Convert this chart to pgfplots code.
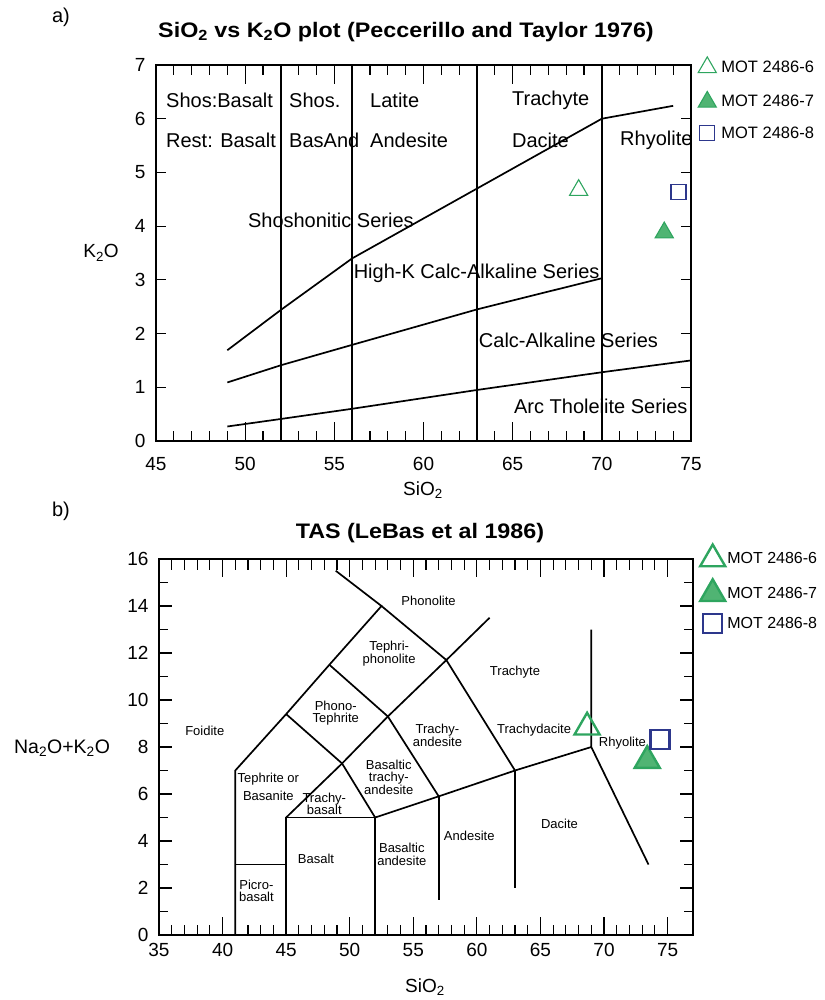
\documentclass[border=0pt]{standalone}
\usepackage{pgfplots}
\pgfplotsset{compat=1.18}
\usepackage{fontspec}
\setmainfont{Liberation Sans}
\definecolor{mgreen}{RGB}{46,165,95}
\definecolor{mfill}{RGB}{80,180,115}
\definecolor{mblue}{RGB}{45,55,140}
\pgfplotsset{
  bnd/.style={forget plot, black, line width=1.7pt},
  oneimg/.style={legend image code/.code={\draw[##1] plot coordinates {(0pt,0pt)};}},
  tk/.style={ticklabel style={font=\fontsize{19}{22}\selectfont},
    /pgf/number format/assume math mode=true, tick align=inside,
    axis line style={line width=1.5pt}, clip=false, scale only axis},
}
\begin{document}
\begin{tikzpicture}
\useasboundingbox (0,0) rectangle (824pt,-1000pt);
% ---------------- a) ----------------
\begin{axis}[tk,
  at={(156pt,-441pt)}, anchor=south west,
  width=535pt, height=376pt,
  xmin=45, xmax=75, ymin=0, ymax=7,
  xtick={45,50,...,75}, ytick=\empty,
  minor x tick num=4,
  major tick length=19pt, minor tick length=10pt,
  every tick/.style={line width=1.1pt, black},
  xticklabel style={yshift=-13pt},
  legend style={at={(1.013,1.022)}, anchor=north west, draw=none, fill=none,
    font=\fontsize{16.5}{18}\selectfont, row sep=17.5pt, inner sep=0pt,
    nodes={inner sep=0pt}, column sep=5pt,
    legend cell align=left},
]
\addplot[only marks, mark=triangle, mark size=10.5pt, mgreen, line width=1.1pt, mark options={fill=white}, oneimg] coordinates {(68.7,4.67)};
\addlegendentry{MOT 2486-6}
\addplot[only marks, mark=triangle*, mark size=10.5pt, mgreen, line width=1.1pt, mark options={fill=mfill}, oneimg] coordinates {(73.5,3.88)};
\addlegendentry{MOT 2486-7}
\addplot[only marks, mark=square, mark size=7.5pt, mblue, line width=1.1pt, oneimg] coordinates {(74.3,4.64)};
\addlegendentry{MOT 2486-8}
% series boundaries
\addplot[bnd] coordinates {(49,1.69) (52,2.44) (56,3.40) (63,4.70) (70,6.00) (74,6.24)};
\addplot[bnd] coordinates {(49,1.09) (52,1.41) (56,1.79) (63,2.45) (70,3.03)};
\addplot[bnd] coordinates {(49,0.27) (52,0.41) (56,0.60) (63,0.95) (70,1.28) (75,1.50)};
\addplot[bnd] coordinates {(52,0) (52,7)};
\addplot[bnd] coordinates {(56,0) (56,7)};
\addplot[bnd] coordinates {(63,0) (63,7)};
\addplot[bnd] coordinates {(70,0) (70,7)};
\begin{scope}[every node/.style={font=\fontsize{20}{22}\selectfont, anchor=west, inner sep=0pt}]
\node at (axis cs:45.56,6.35) {Shos:Basalt};
\node at (axis cs:45.56,5.60) {Rest: Basalt};
\node at (axis cs:52.46,6.35) {Shos.};
\node at (axis cs:52.46,5.60) {BasAnd};
\node at (axis cs:57.0,6.35) {Latite};
\node at (axis cs:57.0,5.60) {Andesite};
\node at (axis cs:64.96,6.35) {Trachyte};
\node at (axis cs:64.96,5.60) {Dacite};
\node at (axis cs:71.02,5.60) {Rhyolite};
\node at (axis cs:50.15,4.11) {Shoshonitic Series};
\node at (axis cs:56.08,3.12) {High-K Calc-Alkaline Series};
\node at (axis cs:63.1,1.88) {Calc-Alkaline Series};
\node at (axis cs:65.07,0.64) {Arc Tholeiite Series};
\end{scope}
\end{axis}
% y ticks of a)
\begin{axis}[tk,
  at={(156pt,-441pt)}, anchor=south west,
  width=535pt, height=376pt,
  xmin=45, xmax=75, ymin=0, ymax=7,
  xtick=\empty, ytick={0,1,...,7},
  major tick length=10pt,
  every tick/.style={line width=1.1pt, black},
  axis line style={draw=none},
  yticklabel style={xshift=-7pt},
]
\end{axis}
% ---------------- b) ----------------
\begin{axis}[tk,
  at={(159pt,-935pt)}, anchor=south west,
  width=534pt, height=376pt,
  xmin=35, xmax=77, ymin=0, ymax=16,
  xtick={35,40,...,75}, ytick=\empty,
  minor x tick num=4,
  major tick length=18pt, minor tick length=10.5pt,
  every tick/.style={line width=1.1pt, black},
  xticklabel style={yshift=-5pt},
  legend style={at={(1.013,1.039)}, anchor=north west, draw=none, fill=none,
    font=\fontsize{16}{18}\selectfont, row sep=13pt, inner sep=0pt,
    nodes={inner sep=0pt}, column sep=2pt,
    legend cell align=left},
]
\addplot[only marks, mark=triangle, mark size=14.5pt, mgreen, line width=2.4pt, mark options={fill=white}, oneimg] coordinates {(68.67,8.84)};
\addlegendentry{MOT 2486-6}
\addplot[only marks, mark=triangle*, mark size=14.5pt, mgreen, line width=2.4pt, mark options={fill=mfill}, oneimg] coordinates {(73.4,7.42)};
\addlegendentry{MOT 2486-7}
\addplot[only marks, mark=square, mark size=9.5pt, mblue, line width=2.4pt, oneimg] coordinates {(74.4,8.31)};
\addlegendentry{MOT 2486-8}
% TAS fields
\addplot[bnd] coordinates {(41,0) (41,7) (45,9.4) (48.4,11.5) (52.5,14) (48.9,15.5)};
\addplot[bnd] coordinates {(41,3) (45,3)};
\addplot[bnd] coordinates {(45,0) (45,5) (52,5) (52,0)};
\addplot[bnd] coordinates {(45,5) (49.4,7.3) (53,9.3) (57.6,11.7) (61,13.5)};
\addplot[bnd] coordinates {(45,9.4) (49.4,7.3) (52,5)};
\addplot[bnd] coordinates {(48.4,11.5) (53,9.3) (57,5.9)};
\addplot[bnd] coordinates {(52.5,14) (57.6,11.7) (63,7)};
\addplot[bnd] coordinates {(52,5) (57,5.9) (63,7) (69,8)};
\addplot[bnd] coordinates {(57,5.9) (57,1.5)};
\addplot[bnd] coordinates {(63,7) (63,2)};
\addplot[bnd] coordinates {(69,13) (69,8) (73.5,3)};
\begin{scope}[every node/.style={font=\fontsize{13}{12.5}\selectfont, align=center, inner sep=0pt}]
\node at (axis cs:38.6,8.7) {Foidite};
\node at (axis cs:56.2,14.2) {Phonolite};
\node at (axis cs:53.1,11.97) {Tephri-\\phonolite};
\node at (axis cs:63.0,11.2) {Trachyte};
\node at (axis cs:48.9,9.44) {Phono-\\Tephrite};
\node at (axis cs:56.9,8.49) {Trachy-\\andesite};
\node at (axis cs:64.5,8.7) {Trachydacite};
\node at (axis cs:71.45,8.18) {Rhyolite};
\node at (axis cs:53.07,6.71) {Basaltic\\trachy-\\andesite};
\node at (axis cs:43.6,6.31) {Tephrite or\\[5pt]Basanite};
\node at (axis cs:48.0,5.58) {Trachy-\\basalt};
\node at (axis cs:66.5,4.72) {Dacite};
\node at (axis cs:59.4,4.2) {Andesite};
\node at (axis cs:47.35,3.23) {Basalt};
\node at (axis cs:54.1,3.44) {Basaltic\\andesite};
\node at (axis cs:42.66,1.88) {Picro-\\basalt};
\end{scope}
\end{axis}
% y ticks of b)
\begin{axis}[tk,
  at={(159pt,-935pt)}, anchor=south west,
  width=534pt, height=376pt,
  xmin=35, xmax=77, ymin=0, ymax=16,
  xtick=\empty, ytick={0,2,...,16}, minor y tick num=1,
  major tick length=13pt, minor tick length=9pt,
  every tick/.style={line width=1.1pt, black},
  axis line style={draw=none},
  yticklabel style={xshift=-7pt},
]
\end{axis}
% ---------------- outer texts ----------------
\node[font=\fontsize{21}{23}\selectfont\bfseries] at (406pt,-32pt) {\scalebox{1.11}[1]{SiO\textsubscript{2} vs K\textsubscript{2}O plot (Peccerillo and Taylor 1976)}};
\node[font=\fontsize{21}{23}\selectfont\bfseries] at (420pt,-533pt) {\scalebox{1.11}[1]{TAS (LeBas et al 1986)}};
\node[font=\fontsize{19}{22}\selectfont] at (423pt,-490pt) {SiO\textsubscript{2}};
\node[font=\fontsize{19}{22}\selectfont] at (425pt,-987pt) {SiO\textsubscript{2}};
\node[font=\fontsize{19}{22}\selectfont] at (101pt,-253pt) {K\textsubscript{2}O};
\node[font=\fontsize{19.5}{22}\selectfont] at (62pt,-748pt) {Na\textsubscript{2}O+K\textsubscript{2}O};
\node[font=\fontsize{20}{22}\selectfont] at (61pt,-17pt) {a)};
\node[font=\fontsize{20}{22}\selectfont] at (61pt,-511pt) {b)};
\end{tikzpicture}
\end{document}
